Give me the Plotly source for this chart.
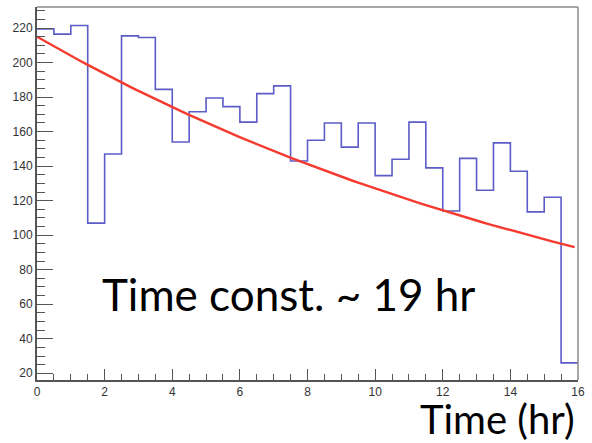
import numpy as np
import plotly.graph_objects as go

# Histogram: 32 bins of 0.5 hr from 0 to 16 hr
bin_edges = [i * 0.5 for i in range(33)]
counts = [219.5, 216.5, 221.5, 107, 147, 215.5, 214.5, 184.5,
          154, 171.5, 179.5, 174.5, 165.5, 182, 186.5, 143,
          155, 165, 151, 165, 134.5, 144, 165.5, 139,
          114, 144.5, 126, 153.5, 137, 113.5, 122, 26]

# Exponential fit parameters
fit_amp = 215.0
fit_tau = 19.0
fit_range = (0.0, 15.9)

y_range = [16.1, 232.2]
x_range = [0, 16]

fit_x = np.linspace(fit_range[0], fit_range[1], 100)
fit_y = fit_amp * np.exp(-fit_x / fit_tau)

fig = go.Figure()
fig.add_trace(go.Scatter(
    x=bin_edges, y=counts + [counts[-1]],
    mode="lines", line=dict(shape="hv", color="#5c5cc8", width=1.6),
    hoverinfo="skip", showlegend=False,
))
fig.add_trace(go.Scatter(
    x=fit_x, y=fit_y, mode="lines",
    line=dict(color="#f53a2f", width=2.4),
    hoverinfo="skip", showlegend=False,
))

tick_font = dict(family="Liberation Sans, Arial, sans-serif", size=12, color="#333333")

fig.update_xaxes(
    range=x_range, showgrid=False, zeroline=False,
    showline=True, linecolor="#555555", linewidth=2,
    ticks="inside", ticklen=11, tickwidth=1.3, tickcolor="#555555",
    tick0=0, dtick=2, tickfont=tick_font,
    minor=dict(ticks="inside", dtick=0.5, ticklen=6, tickwidth=1, tickcolor="#555555"),
)
fig.update_yaxes(
    range=y_range, showgrid=False, zeroline=False,
    showline=True, linecolor="#555555", linewidth=2,
    ticks="inside", ticklen=16, tickwidth=1.3, tickcolor="#555555",
    tick0=0, dtick=20, tickfont=tick_font,
    minor=dict(ticks="inside", dtick=5, ticklen=8, tickwidth=1, tickcolor="#555555"),
)

# Frame top and right edges
fig.add_shape(type="line", xref="paper", yref="paper", x0=0, x1=1, y0=1, y1=1,
              line=dict(color="#8a8a8a", width=1.5))
fig.add_shape(type="line", xref="paper", yref="paper", x0=1, x1=1, y0=0, y1=1,
              line=dict(color="#8a8a8a", width=1.5))

fig.add_annotation(
    x=1.87, y=66.2, xref="x", yref="y", xanchor="left", yanchor="middle",
    text="Time const. ~ 19 hr", showarrow=False,
    font=dict(family="Lato, Open Sans, sans-serif", size=44, color="black"),
)
fig.add_annotation(
    x=0.998, y=-0.1046, xref="paper", yref="paper", xanchor="right", yanchor="middle",
    text="Time (hr)", showarrow=False,
    font=dict(family="Lato, Open Sans, sans-serif", size=40, color="black"),
)

fig.update_layout(
    width=592, height=443,
    margin=dict(l=37, r=9, t=7, b=63),
    paper_bgcolor="white", plot_bgcolor="white",
)

fig.write_html("out.html")
